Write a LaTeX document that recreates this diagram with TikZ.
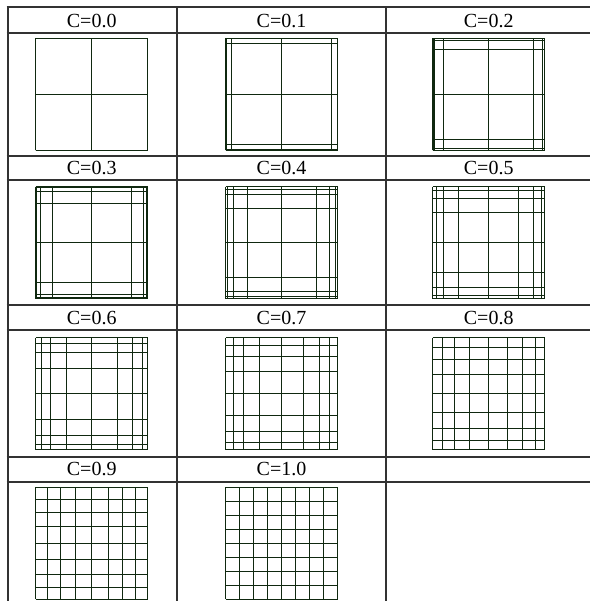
\documentclass[tikz,border=0pt]{standalone}
\usepackage{fontspec}
\setmainfont{Liberation Serif}
\usepackage{tikz}
\definecolor{racszold}{RGB}{15,40,15}
\definecolor{keret}{RGB}{50,50,50}
\tikzset{
  rama/.style={draw=keret,line width=2pt},
  fej/.style={font=\fontsize{20}{20}\selectfont,inner sep=0pt},
  vonal/.style={draw=racszold,line width=0.9pt},
}

\begin{document}
\begin{tikzpicture}[x=1pt,y=-1pt]
  \useasboundingbox (0,0) rectangle (589,601);
  % tablazat
  \foreach \y in {7.5,33.5,156,180,305,330,456.5,481.5}
    \draw[rama] (6.5,\y) -- (592,\y);
  \foreach \x in {7.5,177,386,591}
    \draw[rama] (\x,6.5) -- (\x,610);
  % cellak: fejlec + racs (geometriai sor, hanyados 1/C)
  \foreach \c [count=\n from 0] in {0.0,0.1,0.2,0.3,0.4,0.5,0.6,0.7,0.8,0.9,1.0} {
    \pgfmathtruncatemacro{\oszl}{mod(\n,3)}
    \pgfmathtruncatemacro{\sor}{\n/3}
    \pgfmathsetmacro{\kx}{{91.7,281.5,488.7}[\oszl]}
    \pgfmathsetmacro{\fy}{{20.5,168,317.5,469}[\sor]}
    \pgfmathsetmacro{\gy}{{38.3,186.8,337.8,487.2}[\sor]}
    \node[fej] (fej\n) at (\kx,\fy) {C=\c};
    \pgfmathsetmacro{\W}{\c*\c*\c+\c*\c+\c+1}
    \pgfmathsetmacro{\pa}{0.5*\c*\c*\c/\W}
    \pgfmathsetmacro{\pb}{0.5*(\c*\c*\c+\c*\c)/\W}
    \pgfmathsetmacro{\pc}{0.5*(\c*\c*\c+\c*\c+\c)/\W}
    \begin{scope}[shift={(\kx-56,\gy)}]
      \foreach \p in {0,\pa,\pb,\pc,0.5} {
        \draw[vonal] (112*\p,0) -- (112*\p,112) (112-112*\p,0) -- (112-112*\p,112);
        \draw[vonal] (0,112*\p) -- (112,112*\p) (0,112-112*\p) -- (112,112-112*\p);
      }
    \end{scope}
  }
\end{tikzpicture}
\end{document}
